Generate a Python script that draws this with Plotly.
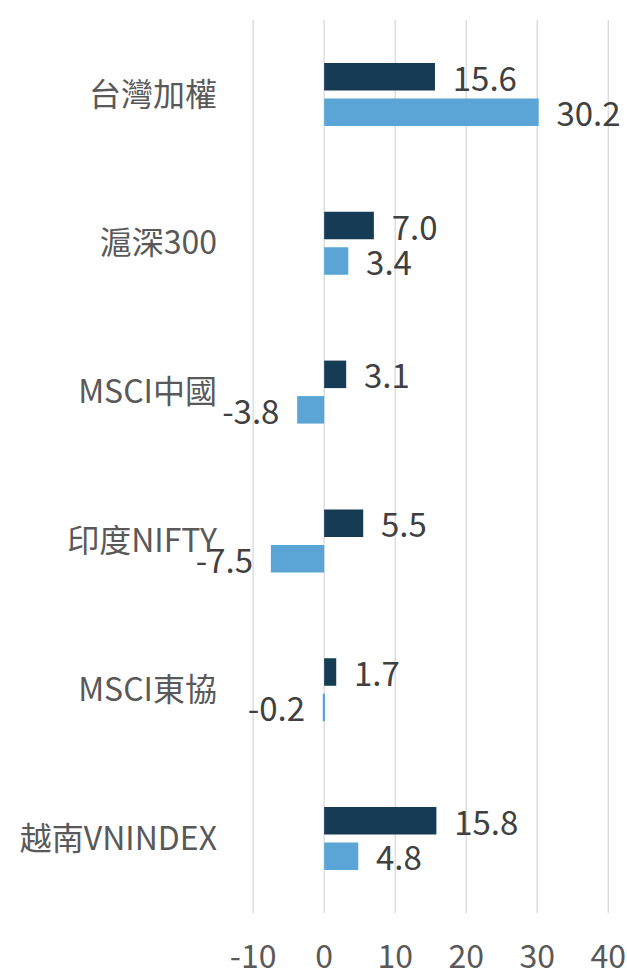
import plotly.graph_objects as go

categories = ["台灣加權", "滬深300", "MSCI中國", "印度NIFTY", "MSCI東協", "越南VNINDEX"]
series_a = [15.6, 7.0, 3.1, 5.5, 1.7, 15.8]
series_b = [30.2, 3.4, -3.8, -7.5, -0.2, 4.8]
x_ticks = [-10, 0, 10, 20, 30, 40]

FONT = "Noto Sans CJK TC"
GRID = "#d9d9d9"


def labels(vals):
    return [f"  {v:.1f}" if v >= 0 else f"{v:.1f}  " for v in vals]


fig = go.Figure()
for t in x_ticks:
    fig.add_shape(type="line", xref="x", yref="paper", x0=t, x1=t, y0=0, y1=1,
                  line=dict(color=GRID, width=1.3), layer="below")

for vals, color in [(series_a, "#163b55"), (series_b, "#5aa5d6")]:
    fig.add_trace(go.Bar(
        y=categories, x=vals, orientation="h",
        marker=dict(color=color, line=dict(width=0)),
        text=labels(vals), textposition="outside",
        textfont=dict(family=FONT, size=33, color="#404040"),
        constraintext="none", cliponaxis=False,
        hoverinfo="skip", showlegend=False,
    ))

fig.update_layout(
    width=627, height=972,
    margin=dict(l=251, r=18, t=20, b=59, autoexpand=False),
    barmode="group", bargap=0.523, bargroupgap=0.225,
    plot_bgcolor="white", paper_bgcolor="white",
    font=dict(family=FONT, color="#595959"),
)
fig.update_xaxes(
    range=[-10.3, 40.1], tickvals=x_ticks, ticktext=[str(t) for t in x_ticks],
    showgrid=False, zeroline=False, showline=False, ticks="",
    tickfont=dict(family=FONT, size=32, color="#595959"),
    ticklabelstandoff=22, automargin=False,
)
fig.update_yaxes(
    autorange="reversed", showgrid=False, zeroline=False, showline=False, ticks="",
    tickfont=dict(family=FONT, size=32, color="#595959"),
    ticklabelstandoff=33, automargin=False,
)

fig.write_html(
    "out.html",
    config={"displayModeBar": False},
    post_script="document.body.style.margin='0';document.body.style.overflow='hidden';",
)
